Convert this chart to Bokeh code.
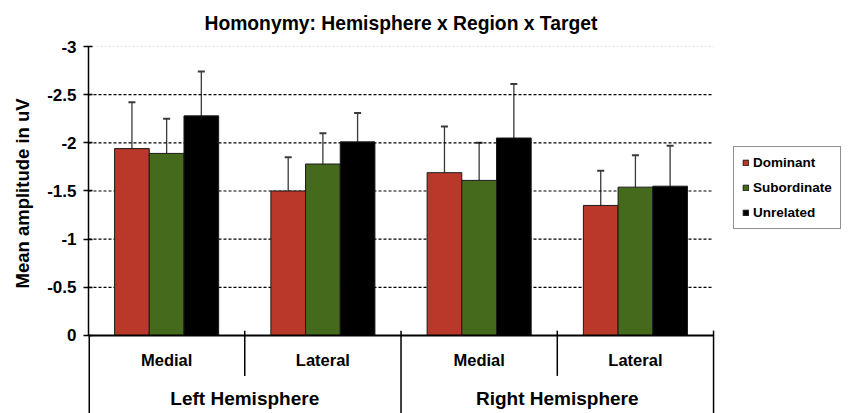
from bokeh.plotting import figure
from bokeh.models import (Range1d, FixedTicker, Legend, LegendItem, Title,
                          Whisker, ColumnDataSource, TeeHead)
from bokeh.core.properties import value
from bokeh.embed import file_html
from bokeh.resources import INLINE

# ---- data ----
hemispheres = ["Left Hemisphere", "Right Hemisphere"]
regions = ["Medial", "Lateral"]
targets = ["Dominant", "Subordinate", "Unrelated"]
dominant = [-1.94, -1.50, -1.69, -1.35]
subordinate = [-1.89, -1.78, -1.61, -1.54]
unrelated = [-2.28, -2.01, -2.05, -1.55]
dominant_err = [0.48, 0.35, 0.48, 0.36]
subordinate_err = [0.36, 0.32, 0.39, 0.33]
unrelated_err = [0.46, 0.30, 0.56, 0.42]
y_ticks = [0, -0.5, -1, -1.5, -2, -2.5, -3]
y_tick_labels = ["0", "-0.5", "-1", "-1.5", "-2", "-2.5", "-3"]
title_text = "Homonymy: Hemisphere x Region x Target"
y_label = "Mean amplitude in uV"

colors = ["#b9382a", "#456a1c", "#000000"]
FONT = "Liberation Sans"

factors = [(h, r) for h in hemispheres for r in regions]
n = len(factors)
xs = [i + 0.5 for i in range(n)]
series = [dominant, subordinate, unrelated]
errors = [dominant_err, subordinate_err, unrelated_err]

Y_BOTTOM = 0.81
p = figure(width=849, height=413,
           x_range=Range1d(0, 4.87), y_range=Range1d(Y_BOTTOM, -3.0),
           output_backend="svg", toolbar_location=None,
           min_border_left=88, min_border_right=0,
           min_border_top=46, min_border_bottom=0)
p.outline_line_color = None
p.title.text = title_text
p.title.align = "left"
p.title.offset = 116
p.title.standoff = 22
p.title.vertical_align = "top"
p.title.text_font = FONT
p.title.text_font_size = "19.3px"
p.title.text_font_style = "bold"
p.title.text_color = "black"

p.xaxis.visible = False
p.xgrid.visible = False
p.ygrid.visible = False

# y axis
yax = p.yaxis[0]
yax.bounds = (-3, 0)
yax.ticker = FixedTicker(ticks=y_ticks)
yax.major_label_overrides = {t: l for t, l in zip(y_ticks, y_tick_labels)}
yax.minor_tick_line_color = None
yax.major_tick_out = 5
yax.major_tick_in = 4
yax.major_tick_line_width = 1.5
yax.axis_line_width = 1.5
yax.axis_line_color = "black"
yax.major_label_text_font = FONT
yax.major_label_text_font_style = "bold"
yax.major_label_text_font_size = "17px"
yax.major_label_text_color = "black"
yax.major_label_standoff = 7

# y-axis title, centred on the 0..-3 span
ytitle = Title(text=y_label, align="left", offset=125, standoff=19,
               vertical_align="top",
               text_font=FONT, text_font_size="18.5px", text_font_style="bold",
               text_color="black")
p.add_layout(ytitle, "left")

# horizontal grid lines across the category area
grid_ticks = y_ticks[1:-1]
p.segment(x0=[0] * len(grid_ticks), x1=[n] * len(grid_ticks), y0=grid_ticks, y1=grid_ticks,
          line_color="black", line_dash="3 2", line_width=1.2)
p.segment(x0=[0], x1=[n], y0=[y_ticks[-1]], y1=[y_ticks[-1]],
          line_color="#c4c4c4", line_dash="2 2", line_width=1)

# bars
bar_w = 0.222
offsets = [-bar_w, 0.0, bar_w]
renderers = []
for name, vals, errs, col, off in zip(targets, series, errors, colors, offsets):
    src = ColumnDataSource(dict(
        x=[x + off for x in xs], top=vals,
        upper=[v - e for v, e in zip(vals, errs)],
        lower=[v + e for v, e in zip(vals, errs)]))
    r = p.vbar(x="x", top="top", bottom=0, width=bar_w, source=src,
               fill_color=col, line_color="#1a1a1a", line_width=1)
    renderers.append((name, r))
    w = Whisker(base="x", upper="upper", lower="lower", source=src,
                line_color="#3a3a3a", line_width=1.3,
                upper_head=TeeHead(size=7, line_width=2, line_color="#3a3a3a"),
                lower_head=TeeHead(size=7, line_width=2, line_color="#3a3a3a"))
    p.add_layout(w)

# x axis baseline
p.segment(x0=[0], x1=[n], y0=[0], y1=[0], line_color="black", line_width=2)

# category separators (drawn from factor boundaries)
bounds = list(range(1, n + 1))
short_x = [b for b in bounds if b % len(regions) != 0]
long_x = [b for b in bounds if b % len(regions) == 0]
p.segment(x0=short_x, x1=short_x, y0=[-0.05] * len(short_x), y1=[0.42] * len(short_x),
          line_color="black", line_width=1.5)
p.segment(x0=long_x, x1=long_x, y0=[-0.05] * len(long_x), y1=[Y_BOTTOM] * len(long_x),
          line_color="black", line_width=1.5)
p.segment(x0=[0], x1=[0], y0=[0], y1=[Y_BOTTOM], line_color="black", line_width=3)

# category labels
p.text(x=xs, y=[0.25] * n, text=[f[1] for f in factors],
       text_font=value(FONT), text_font_style="bold", text_font_size="16.5px",
       text_align="center", text_baseline="middle", text_color="black")
hem_x = [sum(x for x, f in zip(xs, factors) if f[0] == h) / len(regions) for h in hemispheres]
p.text(x=hem_x, y=[0.655] * len(hem_x), text=hemispheres,
       text_font=value(FONT), text_font_style="bold", text_font_size="19px",
       text_align="center", text_baseline="middle", text_color="black")

legend = Legend(items=[LegendItem(label=nm, renderers=[r]) for nm, r in renderers],
                location=(645, 184), margin=0, padding=8, spacing=10,
                label_height=14, glyph_height=7, glyph_width=7, label_standoff=4,
                label_text_font=FONT, label_text_font_style="bold",
                label_text_font_size="13.5px", label_text_color="black",
                border_line_color="#222222", border_line_width=1.5,
                background_fill_alpha=1)
p.add_layout(legend)

open("out.html", "w").write(file_html(p, INLINE))
